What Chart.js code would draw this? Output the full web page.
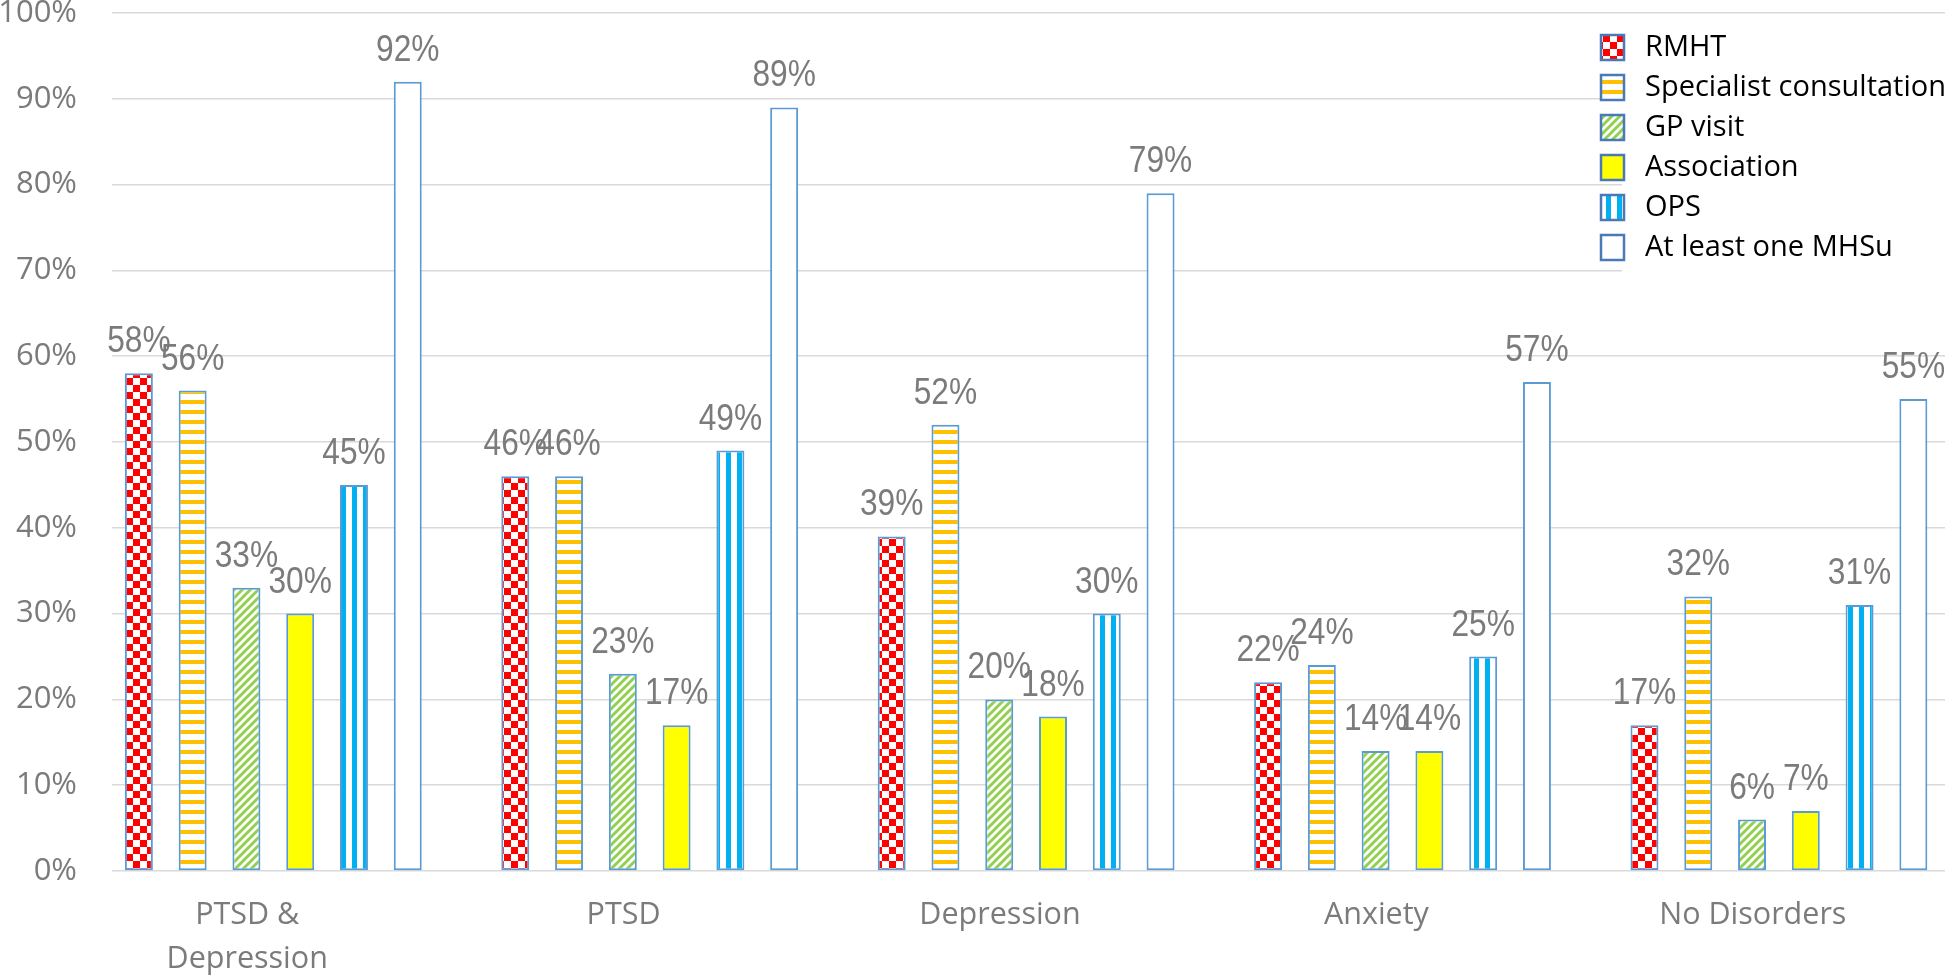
<!DOCTYPE html>
<html>
<head>
<meta charset="utf-8">
<script src="https://cdn.jsdelivr.net/npm/chart.js@4.4.1/dist/chart.umd.min.js"></script>
<style>
  html, body { margin: 0; padding: 0; background: #fff; overflow: hidden; }
  #wrap { position: relative; width: 2000px; height: 980px; }
</style>
</head>
<body>
<div id="wrap"><canvas id="chart"></canvas></div>
<script>
//------------------ Data ------------------//
const categories = [['PTSD &', 'Depression'], 'PTSD', 'Depression', 'Anxiety', 'No Disorders'];
const seriesNames = ['RMHT', 'Specialist consultation', 'GP visit', 'Association', 'OPS', 'At least one MHSu'];
const rmht       = [58, 46, 39, 22, 17];
const specialist = [56, 46, 52, 24, 32];
const gpVisit    = [33, 23, 20, 14, 6];
const association = [30, 17, 18, 14, 7];
const ops        = [45, 49, 30, 25, 31];
const atLeastOne = [92, 89, 79, 57, 55];
const yTicks = [0, 10, 20, 30, 40, 50, 60, 70, 80, 90, 100];

//------------------ Fill patterns ------------------//
function makePattern(w, h, draw) {
  const c = document.createElement('canvas');
  c.width = w; c.height = h;
  const g = c.getContext('2d');
  g.fillStyle = '#fff';
  g.fillRect(0, 0, w, h);
  draw(g, w, h);
  return g.createPattern(c, 'repeat');
}

const checker = makePattern(14, 14, g => {
  g.fillStyle = '#ff0000';
  g.fillRect(0, 0, 7, 7);
  g.fillRect(7, 7, 7, 7);
});
const hStripes = makePattern(10, 10, g => {
  g.fillStyle = '#ffc000';
  g.fillRect(0, 0, 10, 4);
});
const diag = makePattern(8, 8, g => {
  g.strokeStyle = '#92d050';
  g.lineWidth = 3;
  g.beginPath();
  g.moveTo(-2, 10); g.lineTo(10, -2);
  g.moveTo(-2, 2); g.lineTo(2, -2);
  g.moveTo(6, 10); g.lineTo(10, 6);
  g.stroke();
});
const vStripes = makePattern(11, 10, g => {
  g.fillStyle = '#00b0f0';
  g.fillRect(0, 0, 5, 10);
});

const fills = [checker, hStripes, diag, '#ffff00', vStripes, '#ffffff'];
const values = [rmht, specialist, gpVisit, association, ops, atLeastOne];

const barBorder = '#5b9bd5';

const datasets = values.map((v, i) => ({
  label: seriesNames[i],
  data: v,
  backgroundColor: fills[i],
  borderColor: barBorder,
  borderWidth: 2,
  borderSkipped: false
}));
// empty slot at the end of each group (as in the original)
datasets.push({ label: '', data: categories.map(() => null) });

//------------------ Plugins ------------------//
const valueLabels = {
  id: 'valueLabels',
  afterDatasetsDraw(chart) {
    const ctx = chart.ctx;
    ctx.save();
    ctx.font = '36px "Liberation Sans Narrow", "Arial Narrow", sans-serif';
    ctx.fillStyle = '#7b7b7b';
    ctx.textAlign = 'center';
    ctx.textBaseline = 'alphabetic';
    values.forEach((v, i) => {
      const meta = chart.getDatasetMeta(i);
      meta.data.forEach((bar, j) => {
        ctx.save();
        ctx.translate(bar.x, bar.y - 21);
        ctx.scale(0.88, 1);
        ctx.fillText(v[j] + '%', 0, 0);
        ctx.restore();
      });
    });
    ctx.restore();
  }
};

const boxLegend = {
  id: 'boxLegend',
  afterDraw(chart) {
    const ctx = chart.ctx;
    ctx.save();
    ctx.fillStyle = '#fff';
    ctx.fillRect(1622, 20, 380, 256);
    ctx.font = '29px "Open Sans", sans-serif';
    ctx.textBaseline = 'middle';
    ctx.textAlign = 'left';
    seriesNames.forEach((name, i) => {
      const cy = 47 + i * 40;
      ctx.fillStyle = fills[i];
      ctx.fillRect(1601, cy - 12, 23, 25);
      ctx.strokeStyle = '#4a7ab5';
      ctx.lineWidth = 2.5;
      ctx.strokeRect(1601, cy - 12, 23, 25);
      ctx.fillStyle = '#000';
      ctx.fillText(name, 1645, cy + 1);
    });
    ctx.restore();
  }
};

//------------------ Chart ------------------//
new Chart(document.getElementById('chart'), {
  type: 'bar',
  data: { labels: categories, datasets },
  options: {
    responsive: true,
    maintainAspectRatio: false,
    animation: false,
    events: [],
    layout: { padding: { top: 0, right: 6, left: 0, bottom: 0 } },
    datasets: { bar: { categoryPercentage: 1.0, barPercentage: 0.52 } },
    plugins: { legend: { display: false }, tooltip: { enabled: false } },
    scales: {
      x: {
        afterFit(scale) { scale.height = 109; },
        grid: { display: false, drawTicks: false },
        border: { display: false },
        ticks: {
          color: '#7b7b7b',
          font: { family: '"Open Sans", sans-serif', size: 30.5, lineHeight: 1.45 },
          padding: 22,
          labelOffset: -53,
          maxRotation: 0,
          autoSkip: false
        }
      },
      y: {
        min: 0,
        max: 100,
        afterBuildTicks(scale) { scale.ticks = yTicks.map(v => ({ value: v })); },
        afterFit(scale) {
          scale.width = 112;
          scale.paddingTop = 13;
          scale.paddingBottom = 13;
        },
        grid: { color: '#d9d9d9', lineWidth: 1.5, drawTicks: false },
        border: { display: false },
        ticks: {
          color: '#7b7b7b',
          font: { family: '"Open Sans", sans-serif', size: 31, lineHeight: 0.86 },
          padding: 35,
          callback: v => v + '%'
        }
      }
    }
  },
  plugins: [valueLabels, boxLegend]
});
</script>
</body>
</html>
